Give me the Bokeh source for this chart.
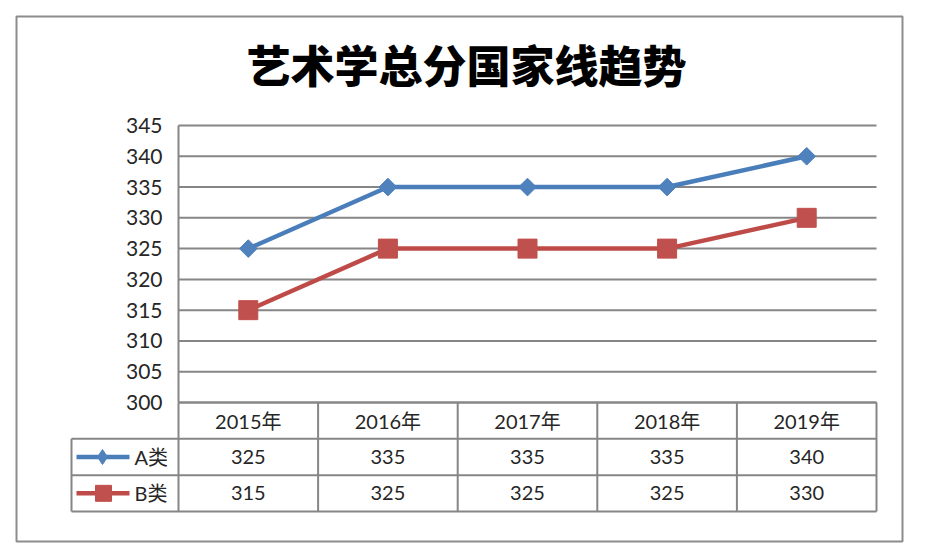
import numpy as np
from bokeh.plotting import figure
from bokeh.models import Range1d
from bokeh.core.properties import value
from bokeh.embed import file_html
from bokeh.resources import INLINE

# ---------------- data ----------------
title_text = "艺术学总分国家线趋势"
years = ["2015年", "2016年", "2017年", "2018年", "2019年"]
series_names = ["A类", "B类"]
a_scores = [325, 335, 335, 335, 340]
b_scores = [315, 325, 325, 325, 330]
y_ticks = [300, 305, 310, 315, 320, 325, 330, 335, 340, 345]

# ---------------- layout (pixels) ----------------
W, H = 939, 556
COL_L, COL_R = 178, 876        # category columns of plot / table
Y_TOP_PX, Y_BOT_PX = 125, 402  # pixel rows of highest / lowest tick
TBL_BOT = 511                  # bottom of data table
LEG_L = 71                     # left edge of legend column
N_ROWS = 3

CAT_PX = (COL_R - COL_L) / len(years)
x_start = -0.5 - COL_L / CAT_PX
x_end = x_start + W / CAT_PX

ymin, ymax = y_ticks[0], y_ticks[-1]
VPX = (Y_BOT_PX - Y_TOP_PX) / (ymax - ymin)
y_end = ymax + Y_TOP_PX / VPX
y_start = ymin - (H - Y_BOT_PX) / VPX

ROW_PX = (TBL_BOT - Y_BOT_PX) / N_ROWS
tbl_start = -(H - TBL_BOT) / ROW_PX
tbl_end = TBL_BOT / ROW_PX


def xpx(px):
    return -0.5 + (px - COL_L) / CAT_PX


NUM_FONT = value("Lato, 'Noto Sans CJK SC'")
TITLE_FONT = value("'Noto Sans CJK SC Black', 'Noto Sans CJK SC'")
GRID = "#868686"
TXT = "#262626"
BLUE_L, BLUE_M = "#4A7EBB", "#4F81BD"
RED_L, RED_M = "#BE4B48", "#C0504D"

p = figure(width=W, height=H,
           x_range=Range1d(x_start, x_end), y_range=Range1d(y_start, y_end),
           x_axis_location=None, y_axis_location=None,
           toolbar_location=None, output_backend="svg",
           min_border=0, min_border_left=0, min_border_right=0,
           min_border_top=0, min_border_bottom=0,
           outline_line_color=None, background_fill_color="white",
           border_fill_color="white")
p.xgrid.grid_line_color = None
p.ygrid.grid_line_color = None
p.extra_x_ranges = {"px": Range1d(0, W)}
p.extra_y_ranges = {"pxy": Range1d(H, 0), "tbl": Range1d(tbl_start, tbl_end)}

xs = np.arange(len(years))
last = len(years) - 0.5

# outer chart border
p.quad(left=16, right=902, top=16, bottom=541, x_range_name="px", y_range_name="pxy",
       fill_color=None, line_color="#8c8c8c", line_width=2)

# title
p.text(x=[466], y=[63], text=[title_text], x_range_name="px", y_range_name="pxy",
       text_font=TITLE_FONT, text_font_size="44px", text_font_style="bold",
       text_align="center", text_baseline="middle", text_color="black")

# gridlines and plot-area left edge
p.segment(x0=-0.5, y0=y_ticks, x1=last, y1=y_ticks, line_color=GRID, line_width=2)
p.segment(x0=-0.5, y0=ymin, x1=-0.5, y1=ymax, line_color=GRID, line_width=2)

# y tick labels
p.text(x=-0.5, y=y_ticks, text=[str(t) for t in y_ticks], x_offset=-16,
       text_font=NUM_FONT, text_font_size="21px", text_color=TXT,
       text_align="right", text_baseline="middle")

# data series
p.line(xs, a_scores, line_color=BLUE_L, line_width=4.5)
p.line(xs, b_scores, line_color=RED_L, line_width=4.5)
p.scatter(xs, a_scores, marker="square", angle=np.pi / 4, size=12.5,
          fill_color=BLUE_M, line_color=BLUE_M)
p.scatter(xs, b_scores, marker="square", size=19, fill_color=RED_M, line_color=RED_M)

# ---------------- data table ----------------
p.segment(x0=xpx(LEG_L), y0=[0, 1, 2], x1=last, y1=[0, 1, 2], y_range_name="tbl",
          line_color=GRID, line_width=2)
p.segment(x0=-0.5, y0=N_ROWS, x1=last, y1=N_ROWS, y_range_name="tbl",
          line_color=GRID, line_width=2)
vx = list(np.arange(len(years) + 1) - 0.5)
p.segment(x0=vx, y0=0, x1=vx, y1=N_ROWS, y_range_name="tbl",
          line_color=GRID, line_width=2)
p.segment(x0=xpx(LEG_L), y0=0, x1=xpx(LEG_L), y1=2, y_range_name="tbl",
          line_color=GRID, line_width=2)

p.text(x=xs, y=2.5, text=years, y_range_name="tbl",
       text_font=NUM_FONT, text_font_size="20px", text_color=TXT,
       text_align="center", text_baseline="middle")
p.text(x=xs, y=1.5, text=[str(v) for v in a_scores], y_range_name="tbl",
       text_font=NUM_FONT, text_font_size="20px", text_color=TXT,
       text_align="center", text_baseline="middle")
p.text(x=xs, y=0.5, text=[str(v) for v in b_scores], y_range_name="tbl",
       text_font=NUM_FONT, text_font_size="20px", text_color=TXT,
       text_align="center", text_baseline="middle")

# legend keys in table
p.segment(x0=xpx(76), y0=[1.5, 0.5], x1=xpx(129), y1=[1.5, 0.5], y_range_name="tbl",
          line_color=[BLUE_L, RED_L], line_width=4.5)
p.scatter(x=[xpx(102)], y=[1.5], marker="diamond", size=15, y_range_name="tbl",
          fill_color=BLUE_M, line_color=BLUE_M)
p.scatter(x=[xpx(103)], y=[0.5], marker="square", size=16, y_range_name="tbl",
          fill_color=RED_M, line_color=RED_M)
p.text(x=xpx(134), y=[1.5, 0.5], text=series_names, y_range_name="tbl",
       text_font=NUM_FONT, text_font_size="20px", text_color=TXT,
       text_align="left", text_baseline="middle")

open("out.html", "w").write(file_html(p, INLINE))
